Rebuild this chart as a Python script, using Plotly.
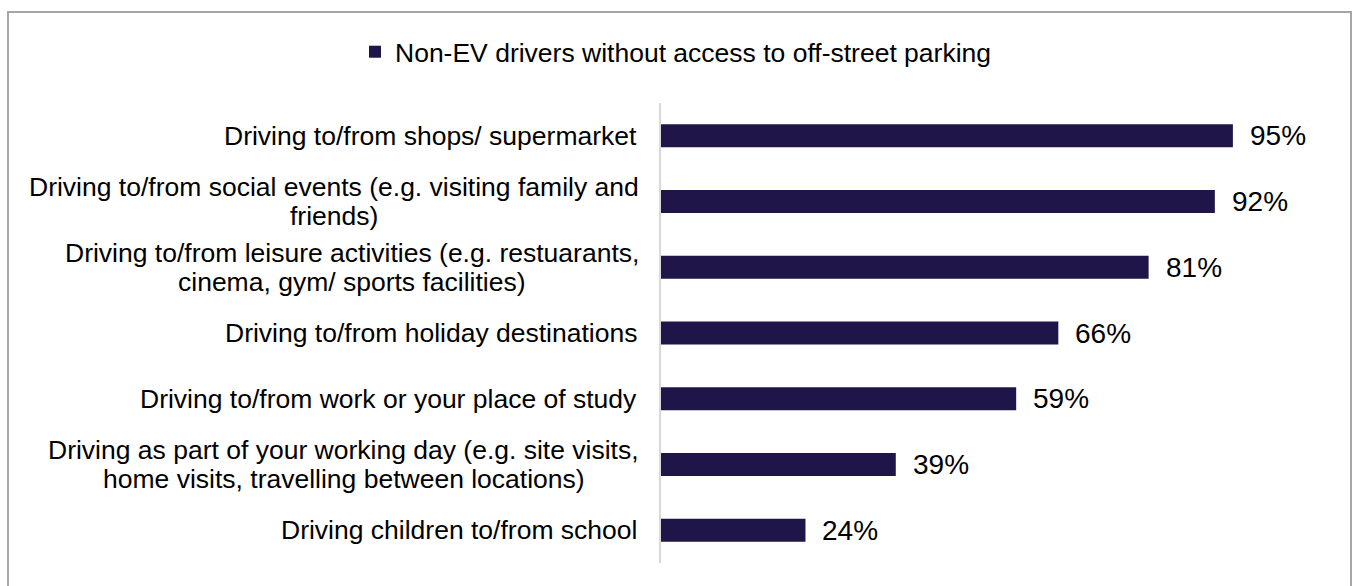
import plotly.graph_objects as go

# Journey types (top to bottom) and share of non-EV drivers without off-street parking
categories = [
    "Driving to/from shops/ supermarket",
    "Driving to/from social events (e.g. visiting family and<br>friends)",
    "Driving to/from leisure activities (e.g. restuarants,<br>cinema, gym/ sports facilities)",
    "Driving to/from holiday destinations",
    "Driving to/from work or your place of study",
    "Driving as part of your working day (e.g. site visits,<br>home visits, travelling between locations)",
    "Driving children to/from school",
]
values = [95, 92, 81, 66, 59, 39, 24]
series_name = "Non-EV drivers without access to off-street parking"

BAR_COLOR = "#1F1548"
FONT = "Liberation Sans, Arial, sans-serif"
LABEL_SIZE = 26.5
VALUE_SIZE = 28
LINE_GAP = 29          # px between wrapped label lines
LABEL_PAD = 22         # px between labels and the axis line
W, H = 1355, 586
ML, MR, MT, MB = 661, 92, 103, 23

# Arial / Liberation Sans advance widths (1/1000 em), used to centre wrapped lines
_W = {" ": 278, "(": 333, ")": 333, ",": 278, "-": 333, ".": 278, "/": 278,
      "D": 722, "E": 667, "N": 722, "V": 667,
      "a": 556, "b": 556, "c": 500, "d": 556, "e": 556, "f": 278, "g": 556,
      "h": 556, "i": 222, "j": 222, "k": 500, "l": 222, "m": 833, "n": 556,
      "o": 556, "p": 556, "q": 556, "r": 333, "s": 500, "t": 278, "u": 556,
      "v": 500, "w": 722, "x": 500, "y": 500, "z": 500}


def text_width(s, size):
    return sum(_W.get(ch, 556) for ch in s) * size / 1000.0


fig = go.Figure()
fig.add_trace(go.Bar(
    x=values,
    y=categories,
    orientation="h",
    name=series_name,
    marker=dict(color=BAR_COLOR, line=dict(width=0)),
    showlegend=True,
    hoverinfo="skip",
))

annotations = []
# category labels: block right-aligned to the axis, wrapped lines centred
for cat in categories:
    lines = cat.split("<br>")
    n = len(lines)
    wmax = max(text_width(l, LABEL_SIZE) for l in lines)
    for i, line in enumerate(lines):
        if n == 1:
            anchor, shift = "right", -LABEL_PAD
        else:
            anchor, shift = "center", -LABEL_PAD - wmax / 2
        annotations.append(dict(
            x=0, xref="paper", y=cat, yref="y",
            text=line, showarrow=False,
            xanchor=anchor, yanchor="middle",
            xshift=shift, yshift=((n - 1) / 2 - i) * LINE_GAP,
            font=dict(family=FONT, size=LABEL_SIZE, color="#000000"),
        ))
# value labels at the end of each bar
for cat, v in zip(categories, values):
    annotations.append(dict(
        x=v, xref="x", y=cat, yref="y",
        text=f"{v}%", showarrow=False,
        xanchor="left", yanchor="middle",
        xshift=15,
        font=dict(family=FONT, size=VALUE_SIZE, color="#000000"),
    ))

pw = W - ML - MR
ph = H - MT - MB


def px_x(p):
    return (p - ML) / pw


def px_y(p):
    return (H - MB - p) / ph


fig.update_layout(
    width=W, height=H,
    margin=dict(l=ML, r=MR, t=MT, b=MB, pad=0),
    paper_bgcolor="white", plot_bgcolor="white",
    font=dict(family=FONT, size=LABEL_SIZE, color="#000000"),
    bargap=0.65,
    xaxis=dict(range=[0, 100], visible=False, fixedrange=True),
    yaxis=dict(
        autorange="reversed",
        showticklabels=False,
        showline=True, linecolor="#D9D9D9", linewidth=2,
        showgrid=False, zeroline=False, ticks="",
    ),
    legend=dict(
        orientation="h",
        x=px_x(355), xanchor="left",
        y=px_y(52), yanchor="middle",
        font=dict(family=FONT, size=LABEL_SIZE, color="#000000"),
        bgcolor="rgba(0,0,0,0)",
    ),
    annotations=annotations,
    shapes=[dict(
        type="rect", xref="paper", yref="paper",
        x0=px_x(8), x1=px_x(1351), y0=px_y(12), y1=px_y(600),
        line=dict(color="#A6A6A6", width=2),
        fillcolor="rgba(0,0,0,0)", layer="below",
    )],
)

fig.write_html("out.html")
